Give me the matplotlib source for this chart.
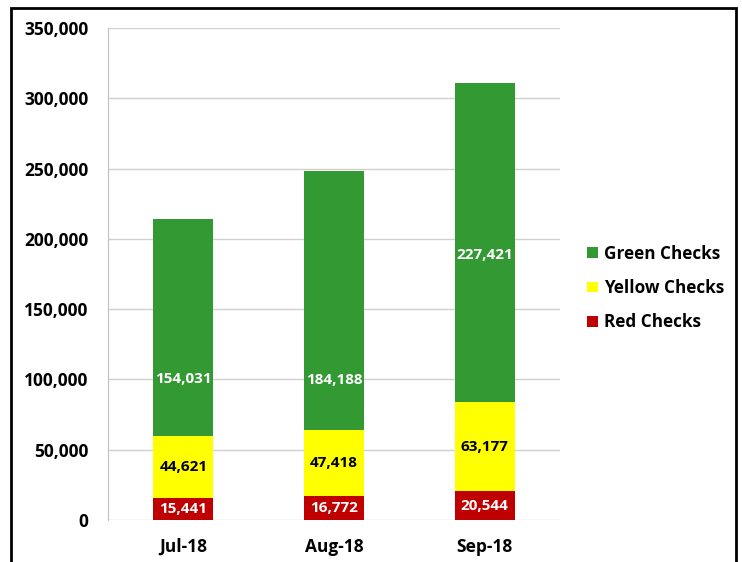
import numpy as np
import matplotlib.pyplot as plt
from matplotlib.patches import Rectangle
from matplotlib.ticker import FuncFormatter

months = ["Jul-18", "Aug-18", "Sep-18"]
red = [15441, 16772, 20544]
yellow = [44621, 47418, 63177]
green = [154031, 184188, 227421]
# where Excel put the green labels
green_label_y = [100300, 99600, 188500]

plt.rcParams["font.family"] = ["Open Sans", "DejaVu Sans"]
plt.rcParams["font.weight"] = "bold"

fig = plt.figure(figsize=(7.42, 5.62), dpi=100)
ax = fig.add_axes([108 / 742, 1 - 520 / 562, 452 / 742, 492 / 562])

x = np.arange(len(months))
w = 0.4
bottom_y = np.array(red)
bottom_g = bottom_y + np.array(yellow)

ax.bar(x, red, w, color="#C00000", label="Red Checks", zorder=3)
ax.bar(x, yellow, w, bottom=bottom_y, color="#FFFF00", label="Yellow Checks", zorder=3)
ax.bar(x, green, w, bottom=bottom_g, color="#339933", label="Green Checks", zorder=3)

fs = 11
for i in range(len(months)):
    ax.text(x[i], red[i] / 2, f"{red[i]:,}", ha="center", va="center",
            color="white", fontsize=fs, fontweight="bold", zorder=4)
    ax.text(x[i], bottom_y[i] + yellow[i] / 2, f"{yellow[i]:,}", ha="center",
            va="center", color="black", fontsize=fs, fontweight="bold", zorder=4)
    ax.text(x[i], green_label_y[i], f"{green[i]:,}", ha="center", va="center",
            color="white", fontsize=fs, fontweight="bold", zorder=4)

ax.set_xlim(-0.5, 2.5)
ax.set_ylim(0, 350000)
ax.set_yticks(np.arange(0, 350001, 50000))
ax.yaxis.set_major_formatter(FuncFormatter(lambda v, p: f"{int(v):,}"))
ax.set_xticks(x)
ax.set_xticklabels(months)
ax.tick_params(axis="both", length=0, labelsize=12.5)
ax.tick_params(axis="y", pad=14)
ax.tick_params(axis="x", pad=13)
ax.grid(axis="y", color="#D0D0D0", linewidth=1, zorder=0)
for s in ["top", "right", "bottom"]:
    ax.spines[s].set_visible(False)
ax.spines["left"].set_color("#C0C0C0")

handles, labels = ax.get_legend_handles_labels()
leg = fig.legend(handles[::-1], labels[::-1], loc="center left",
                 bbox_to_anchor=(572 / 742, 1 - 288 / 562), frameon=False,
                 fontsize=12.3, handlelength=0.6, handleheight=0.6,
                 handletextpad=0.4, labelspacing=0.95)

fig.patches.append(Rectangle((11 / 742, -0.02), 725 / 742, 1 - 8 / 562 + 0.02,
                             transform=fig.transFigure, fill=False,
                             edgecolor="black", linewidth=2))

fig.savefig("out.png", dpi=100)
